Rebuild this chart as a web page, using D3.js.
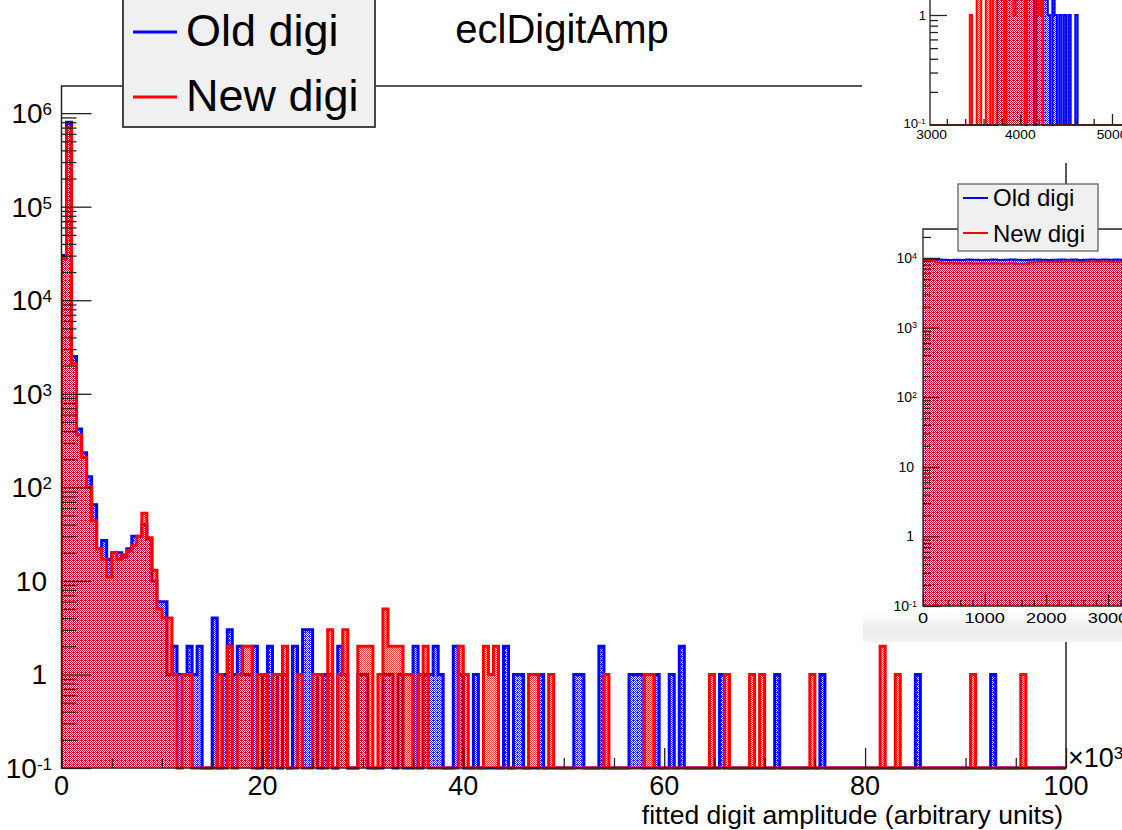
<!DOCTYPE html>
<html>
<head>
<meta charset="utf-8">
<script src="https://cdn.jsdelivr.net/npm/d3@7"></script>
<style>
  html, body { margin: 0; padding: 0; background: #ffffff; }
  svg { display: block; }
  text { font-family: "Liberation Sans", Arial, Helvetica, sans-serif; fill: #000; }
</style>
</head>
<body>
<svg id="chart" width="1122" height="830"></svg>
<script>
// ---------------- data ----------------
const titleText = "eclDigitAmp";
const xTitle = "fitted digit amplitude (arbitrary units)";
const seriesNames = ["Old digi", "New digi"];
const seriesColors = ["#0000ff", "#ff0000"];

// main histogram: 200 bins of 0.5 (x10^3) between 0 and 100
const binLow = 0;
const binWidth = 0.5;
const oldDigi = [
  30000, 800000, 2500, 420, 235, 130, 65, 22, 27, 17, 20, 20, 18, 22, 30, 30, 40, 28, 10, 6,
  6, 1, 2, 1, 1, 2, 1, 2, 0, 0, 4, 0, 1, 3, 1, 2, 1, 1, 2, 0,
  1, 2, 1, 0, 1, 0, 2, 1, 3, 3, 1, 0, 1, 1, 0, 2, 1, 0, 0, 1,
  1, 0, 0, 0, 1, 1, 0, 1, 0, 0, 2, 0, 1, 1, 2, 1, 0, 0, 2, 1,
  0, 0, 1, 0, 0, 0, 0, 0, 2, 0, 1, 1, 0, 0, 0, 1, 0, 0, 0, 0,
  0, 0, 1, 1, 0, 0, 0, 2, 0, 0, 0, 0, 0, 1, 1, 1, 0, 0, 1, 0,
  0, 1, 0, 2, 0, 0, 0, 0, 0, 0, 0, 1, 0, 0, 0, 0, 0, 0, 0, 0,
  0, 0, 1, 0, 0, 0, 0, 0, 0, 0, 0, 1, 0, 0, 0, 0, 0, 0, 0, 0,
  0, 0, 0, 0, 0, 0, 0, 0, 0, 0, 1, 0, 0, 0, 0, 0, 0, 0, 0, 0,
  0, 0, 0, 0, 0, 1, 0, 0, 0, 0, 0, 0, 0, 0, 0, 0, 0, 0, 0, 0
];
const newDigi = [
  28000, 700000, 2100, 365, 208, 101, 44, 22, 17, 11, 20, 17, 19, 21, 24, 30, 53, 29, 13, 5,
  4, 4, 1, 0, 1, 1, 0, 0, 0, 0, 0, 1, 0, 2, 0, 1, 2, 2, 0, 1,
  1, 0, 1, 1, 2, 0, 0, 1, 0, 0, 1, 1, 0, 3, 0, 1, 3, 0, 0, 2,
  2, 2, 0, 1, 5, 2, 2, 2, 1, 1, 0, 1, 2, 0, 0, 0, 0, 0, 0, 2,
  1, 0, 0, 0, 2, 1, 2, 0, 0, 0, 0, 0, 0, 1, 1, 0, 0, 1, 0, 0,
  0, 0, 0, 0, 0, 0, 0, 0, 1, 0, 0, 0, 0, 0, 0, 0, 1, 1, 0, 0,
  0, 0, 0, 0, 0, 0, 0, 0, 0, 1, 0, 0, 1, 0, 0, 0, 0, 1, 0, 1,
  0, 0, 0, 0, 0, 0, 0, 0, 0, 1, 0, 0, 0, 0, 0, 0, 0, 0, 0, 0,
  0, 0, 0, 2, 0, 0, 1, 0, 0, 0, 0, 0, 0, 0, 0, 0, 0, 0, 0, 0,
  0, 1, 0, 0, 0, 0, 0, 0, 0, 0, 0, 1, 0, 0, 0, 0, 0, 0, 0, 0
];
const xTickValues = [0, 20, 40, 60, 80, 100];
const yDecades = [0.1, 1, 10, 100, 1e3, 1e4, 1e5, 1e6];

// close-up of the 3000-5500 range, 25-unit bins
const zoomLow = 3000;
const zoomWidth = 25;
const zoomOld = [
  0, 0, 0, 0, 0, 0, 0, 0, 0, 0, 0, 0, 0, 0, 0, 0, 0, 0, 0, 0,
  0, 0, 0, 0, 0, 0, 0, 0, 0, 0, 2, 4, 3, 5, 6, 4, 3, 5, 2, 6,
  4, 3, 5, 2, 4, 3, 0, 2, 4, 1, 3, 2, 1, 0, 2, 1, 0, 1, 0, 1,
  0, 1, 0, 0, 1, 0, 0, 0, 0, 0, 0, 0, 0, 0, 0, 0, 0, 0, 0, 0,
  0, 0, 0, 0, 0, 0, 0, 0, 0, 0, 0, 0, 0, 0, 0, 0, 0, 0, 0, 0
];
const zoomNew = [
  0, 0, 0, 0, 0, 0, 0, 0, 0, 0, 0, 0, 0, 0, 0, 0, 0, 0, 1, 0,
  0, 3, 2, 0, 0, 3, 5, 0, 4, 6, 3, 2, 5, 0, 7, 4, 3, 1, 6, 2,
  5, 4, 0, 3, 6, 2, 4, 3, 1, 2, 0, 0, 0, 0, 0, 0, 0, 0, 0, 0,
  0, 0, 0, 0, 0, 0, 0, 0, 0, 0, 0, 0, 0, 0, 0, 0, 0, 0, 0, 0,
  0, 0, 0, 0, 0, 0, 0, 0, 0, 0, 0, 0, 0, 0, 0, 0, 0, 0, 0, 0
];
const zoomXTicks = [3000, 4000, 5000];

// low-amplitude view 0-3300, 100-unit bins
const lowLow = 0;
const lowWidth = 100;
const lowOld = [
  9400, 9350, 9450, 9400, 9300, 9400, 9350, 9450, 9400, 9300, 9400,
  9450, 9350, 9400, 9450, 9400, 9300, 9400, 9450, 9400, 9350, 9400,
  9500, 9400, 9450, 9350, 9400, 9450, 9400, 9500, 9400, 9450, 9400
];
const lowNew = [
  9100, 9000, 8600, 8400, 8500, 8400, 8300, 8400, 8300, 8350, 8300,
  8400, 8300, 8250, 8350, 8200, 8100, 8600, 8700, 8800, 8750, 8800,
  8700, 8850, 8800, 8750, 8800, 8900, 8800, 8850, 8800, 8750, 8800
];
const lowXTicks = [0, 1000, 2000, 3000];
const lowYDecades = [0.1, 1, 10, 100, 1e3, 1e4];

// ---------------- drawing ----------------
const svg = d3.select("#chart");
const defs = svg.append("defs");

// dotted fill styles for the two series
function dotPattern(id, color, cells, opacity) {
  const p = defs.append("pattern").attr("id", id)
    .attr("patternUnits", "userSpaceOnUse").attr("width", 4).attr("height", 4);
  cells.forEach(([cx, cy]) => p.append("rect").attr("x", cx).attr("y", cy)
    .attr("width", 1).attr("height", 1).attr("fill", color).attr("fill-opacity", opacity));
}
const checker = [[0,0],[2,0],[1,1],[3,1],[0,2],[2,2],[1,3],[3,3]];
dotPattern("fillOld", seriesColors[0], checker.concat([[1,0]]), 0.85);
dotPattern("fillNew", seriesColors[1], checker, 0.78);
const fills = ["url(#fillOld)", "url(#fillNew)"];

function clip(id, x0, y0, w, h) {
  defs.append("clipPath").attr("id", id).append("rect")
    .attr("x", x0).attr("y", y0).attr("width", w).attr("height", h);
  return `url(#${id})`;
}

function stepPoints(counts, lo, w, xs, ys, yBase) {
  const pts = [[xs(lo), yBase]];
  counts.forEach((c, i) => {
    const yy = c > 0 ? ys(c) : yBase;
    pts.push([xs(lo + i * w), yy], [xs(lo + (i + 1) * w), yy]);
  });
  pts.push([xs(lo + counts.length * w), yBase]);
  return pts;
}

function drawHist(g, series, lo, w, xs, ys, yBase, lw) {
  const line = d3.line();
  series.forEach((counts, s) => {
    const pts = stepPoints(counts, lo, w, xs, ys, yBase);
    g.append("path").attr("d", line(pts) + "Z").attr("fill", fills[s]).attr("stroke", "none");
    g.append("path").attr("d", line(pts)).attr("fill", "none")
      .attr("stroke", seriesColors[s]).attr("stroke-width", lw)
      .attr("stroke-linejoin", "miter");
  });
}

function powText(sel, v, supSize) {
  const e = Math.round(Math.log10(v));
  if (e === 0) { sel.text("1"); return; }
  if (e === 1) { sel.text("10"); return; }
  sel.append("tspan").text("10");
  sel.append("tspan").attr("dy", "-0.48em").attr("font-size", supSize).text(String(e));
}

function minorLog(lo, hi) {
  const out = [];
  for (let d = lo; d < hi; d *= 10) {
    for (let m = 2; m <= 9; m++) { const v = +(m * d).toPrecision(3); if (v < hi) out.push(v); }
  }
  return out;
}

function ticks(g, axisFn, scale, values, size, tx, ty, color) {
  const a = g.append("g").attr("transform", `translate(${tx},${ty})`)
    .call(axisFn(scale).tickValues(values).tickSize(size).tickFormat(""));
  a.select(".domain").remove();
  a.selectAll("line").attr("stroke", color || "#222").attr("stroke-width", 1.3);
}

// ======== main pad ========
const F = { left: 61.5, right: 1066, top: 86, bottom: 768 };
const x = d3.scaleLinear().domain([0, 100]).range([F.left, F.right]);
const y = d3.scaleLog().domain([0.1, 1.95e6]).range([F.bottom, F.top]);

const main = svg.append("g");
const histG = main.append("g").attr("clip-path", clip("mainClip", F.left, F.top, F.right - F.left, F.bottom - F.top + 2.5));
drawHist(histG, [oldDigi, newDigi], binLow, binWidth, x, y, F.bottom, 3);

// frame
main.append("rect").attr("x", F.left).attr("y", F.top)
  .attr("width", F.right - F.left).attr("height", F.bottom - F.top)
  .attr("fill", "none").attr("stroke", "#222").attr("stroke-width", 1.5);

// y ticks (inside the frame)
ticks(main, d3.axisRight, y, yDecades, 30, F.left, 0);
ticks(main, d3.axisRight, y, minorLog(0.1, 1.95e6), 15, F.left, 0);
// x ticks
ticks(main, d3.axisTop, x, xTickValues, 20, 0, F.bottom);
ticks(main, d3.axisTop, x, d3.range(5, 100, 5).filter(v => v % 20 !== 0), 10, 0, F.bottom);

// y labels
main.selectAll("text.ylab").data(yDecades).join("text").attr("class", "ylab")
  .attr("x", v => (v === 1 || v === 10) ? 47 : 52)
  .attr("y", v => y(v) + 10)
  .attr("text-anchor", "end").attr("font-size", 28)
  .each(function (v) { powText(d3.select(this), v, 17); });

// x labels
main.selectAll("text.xlab").data(xTickValues).join("text").attr("class", "xlab")
  .attr("x", v => x(v)).attr("y", 795)
  .attr("text-anchor", "middle").attr("font-size", 27).text(v => v);

// x10^3 multiplier
const mult = main.append("text").attr("x", 1068).attr("y", 767).attr("font-size", 27);
mult.append("tspan").text("\u00d710");
mult.append("tspan").attr("dy", "-0.48em").attr("font-size", 17).text("3");

// axis title
main.append("text").attr("x", 1063).attr("y", 824).attr("text-anchor", "end")
  .attr("font-size", 26.5).text(xTitle);

// title
main.append("text").attr("x", 562).attr("y", 43).attr("text-anchor", "middle")
  .attr("font-size", 40).text(titleText);

// legend
const leg = main.append("g");
leg.append("rect").attr("x", 123).attr("y", -6).attr("width", 252).attr("height", 133)
  .attr("fill", "#f0f0f0").attr("stroke", "#333").attr("stroke-width", 1.8);
seriesNames.forEach((name, i) => {
  const yy = [32, 97][i];
  leg.append("line").attr("x1", 133).attr("x2", 177).attr("y1", yy).attr("y2", yy)
    .attr("stroke", seriesColors[i]).attr("stroke-width", 3);
  leg.append("text").attr("x", 186).attr("y", [46, 111][i]).attr("font-size", 45).text(name);
});

// ======== close-up panel (top right) ========
const A = { left: 930, right: 1122, top: 0, bottom: 125 };
const xa = d3.scaleLinear().domain([3000, 5000]).range([928.5, 1112]);
const ya = d3.scaleLog().domain([0.1, 1]).range([A.bottom, 15]);
const pa = svg.append("g");
pa.append("rect").attr("x", 862).attr("y", 0).attr("width", 260).attr("height", 163).attr("fill", "#fff");
const histA = pa.append("g").attr("clip-path", clip("clipA", A.left, 0, A.right - A.left, A.bottom + 1.5));
drawHist(histA, [zoomOld, zoomNew], zoomLow, zoomWidth, xa, ya, A.bottom, 2);
pa.append("path").attr("d", `M${A.left},0V${A.bottom}H${A.right}`)
  .attr("fill", "none").attr("stroke", "#222").attr("stroke-width", 1.3);
ticks(pa, d3.axisRight, ya, [1], 17, A.left, 0);
ticks(pa, d3.axisRight, ya, minorLog(0.1, 1), 8, A.left, 0);
ticks(pa, d3.axisTop, xa, [4000, 5000], 11, 0, A.bottom);
ticks(pa, d3.axisTop, xa, [3200, 3400, 3600, 3800, 4200, 4400, 4600, 4800], 6, 0, A.bottom);
pa.selectAll("g.ayl").data([0.1, 1]).join("g").attr("class", "ayl")
  .attr("transform", v => `translate(926,${ya(v) + (v === 1 ? 5 : 3)}) scale(1.1,1)`)
  .append("text").attr("text-anchor", "end").attr("font-size", 12)
  .each(function (v) { powText(d3.select(this), v, 8); });
pa.selectAll("g.axl").data(zoomXTicks).join("g").attr("class", "axl")
  .attr("transform", v => `translate(${xa(v) + (v === 3000 ? 3 : 0)},139) scale(1.15,1)`)
  .append("text").attr("text-anchor", "middle").attr("font-size", 12).text(v => v);

// ======== low-amplitude panel (right) ========
const B = { left: 923, right: 1122, top: 229, bottom: 606 };
const xb = d3.scaleLinear().domain([0, 3000]).range([B.left, 1108]);
const yb = d3.scaleLog().domain([0.1, 26000]).range([B.bottom, B.top]);
const pb = svg.append("g");
const grad = defs.append("linearGradient").attr("id", "pbShade").attr("x1", 0).attr("x2", 0).attr("y1", 0).attr("y2", 1);
grad.append("stop").attr("offset", "0").attr("stop-color", "#ffffff");
grad.append("stop").attr("offset", "0.6").attr("stop-color", "#ebebeb");
grad.append("stop").attr("offset", "1").attr("stop-color", "#f3f3f3");
pb.append("rect").attr("x", 863).attr("y", 184).attr("width", 259).attr("height", 458).attr("fill", "#fff");
pb.append("rect").attr("x", 863).attr("y", 612).attr("width", 259).attr("height", 30).attr("fill", "url(#pbShade)");
const histB = pb.append("g").attr("clip-path", clip("clipB", B.left, B.top, B.right - B.left, B.bottom - B.top + 1));
drawHist(histB, [lowOld, lowNew], lowLow, lowWidth, xb, yb, B.bottom, 2);
pb.append("path").attr("d", `M${B.right},${B.top}H${B.left}V${B.bottom}H${B.right}`)
  .attr("fill", "none").attr("stroke", "#222").attr("stroke-width", 1.3);
ticks(pb, d3.axisRight, yb, lowYDecades, 17, B.left, 0);
ticks(pb, d3.axisRight, yb, minorLog(0.1, 26000), 8, B.left, 0);
ticks(pb, d3.axisTop, xb, lowXTicks, 12, 0, B.bottom);
ticks(pb, d3.axisTop, xb, d3.range(200, 3300, 200).filter(v => v % 1000 !== 0), 6, 0, B.bottom);
pb.selectAll("text.byl").data(lowYDecades).join("text").attr("class", "byl")
  .attr("x", v => (v === 1 || v === 10) ? 914 : 917).attr("y", v => yb(v) + 5)
  .attr("text-anchor", "end").attr("font-size", 14)
  .each(function (v) { powText(d3.select(this), v, 9); });
pb.selectAll("g.bxl").data(lowXTicks).join("g").attr("class", "bxl")
  .attr("transform", v => `translate(${xb(v)},623) scale(1.3,1)`)
  .append("text").attr("text-anchor", "middle").attr("font-size", 14).text(v => v);

// legend of the low-amplitude panel
const legB = pb.append("g");
legB.append("rect").attr("x", 958).attr("y", 184).attr("width", 140).attr("height", 67)
  .attr("fill", "#f0f0f0").attr("stroke", "#555").attr("stroke-width", 1.2);
seriesNames.forEach((name, i) => {
  const yy = [198, 233][i];
  legB.append("line").attr("x1", 963).attr("x2", 988).attr("y1", yy).attr("y2", yy)
    .attr("stroke", seriesColors[i]).attr("stroke-width", 2);
  legB.append("text").attr("x", 993).attr("y", [206, 242][i]).attr("font-size", 24).text(name);
});
</script>
</body>
</html>
